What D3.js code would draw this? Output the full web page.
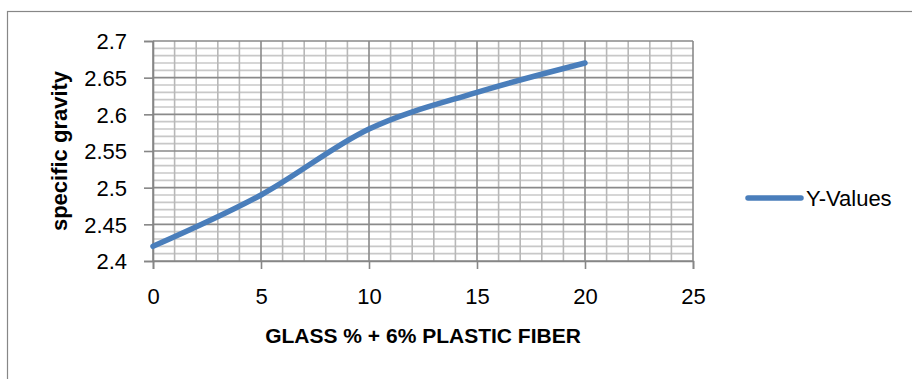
<!DOCTYPE html>
<html>
<head>
<meta charset="utf-8">
<script src="https://cdn.jsdelivr.net/npm/d3@7"></script>
<style>
  html, body { margin: 0; padding: 0; background: #fff; }
  svg { display: block; }
  text { font-family: "Liberation Sans", Arial, sans-serif; fill: #000; }
</style>
</head>
<body>
<svg id="chart" width="912" height="379"></svg>
<script>
// ---- data ----
const xValues = [0, 5, 10, 15, 20];
const yValues = [2.42, 2.49, 2.58, 2.63, 2.67];
const seriesName = "Y-Values";
const xTicks = [0, 5, 10, 15, 20, 25];
const yTicks = [2.4, 2.45, 2.5, 2.55, 2.6, 2.65, 2.7];
const xTitle = "GLASS % + 6% PLASTIC FIBER";
const yTitle = "specific gravity";

const svg = d3.select("#chart");

// outer chart border (extends past the visible frame)
svg.append("rect")
  .attr("x", 7.5).attr("y", 11.5)
  .attr("width", 1200).attr("height", 600)
  .attr("fill", "#fff").attr("stroke", "#878787").attr("stroke-width", 1.2);

const plot = { left: 153, right: 693, top: 41, bottom: 261 };
const x = d3.scaleLinear().domain([0, 25]).range([plot.left, plot.right]);
const y = d3.scaleLinear().domain([2.4, 2.7]).range([plot.bottom, plot.top]);

const g = svg.append("g");

// minor gridlines
const xMinor = d3.range(0, 26, 1).filter(v => v % 5 !== 0);
const yMinor = d3.range(0, 31, 1).filter(v => v % 5 !== 0).map(v => 2.4 + v * 0.01);

g.selectAll(".hminor").data(yMinor).join("line")
  .attr("x1", plot.left).attr("x2", plot.right)
  .attr("y1", d => y(d)).attr("y2", d => y(d))
  .attr("stroke", "#c8c8c8").attr("stroke-width", 1.6);

g.selectAll(".vminor").data(xMinor).join("line")
  .attr("y1", plot.top).attr("y2", plot.bottom)
  .attr("x1", d => x(d)).attr("x2", d => x(d))
  .attr("stroke", "#b8b8b8").attr("stroke-width", 1.6);

// major gridlines
g.selectAll(".hmajor").data(yTicks).join("line")
  .attr("x1", plot.left).attr("x2", plot.right)
  .attr("y1", d => y(d)).attr("y2", d => y(d))
  .attr("stroke", "#8a8a8a").attr("stroke-width", 1.6);

g.selectAll(".vmajor").data(xTicks).join("line")
  .attr("y1", plot.top).attr("y2", plot.bottom)
  .attr("x1", d => x(d)).attr("x2", d => x(d))
  .attr("stroke", "#8a8a8a").attr("stroke-width", 1.6);

// axes
const xAxis = d3.axisBottom(x).tickValues(xTicks).tickSize(8).tickPadding(19)
  .tickFormat(d3.format("d"));
const yAxis = d3.axisLeft(y).tickValues(yTicks).tickSize(9).tickPadding(17)
  .tickFormat(d => String(+d.toFixed(2)));

const gx = svg.append("g").attr("transform", `translate(0,${plot.bottom})`).call(xAxis);
const gy = svg.append("g").attr("transform", `translate(${plot.left},0)`).call(yAxis);

[gx, gy].forEach(a => {
  a.select(".domain").attr("stroke", "#868686").attr("stroke-width", 1.6);
  a.selectAll(".tick line").attr("stroke", "#868686").attr("stroke-width", 1.6);
  a.selectAll(".tick text")
    .style("font-family", '"Liberation Sans", Arial, sans-serif')
    .style("font-size", "22px").attr("fill", "#000");
});
gx.selectAll(".tick text").attr("dy", "0.71em");
gy.selectAll(".tick text").attr("dy", "0.36em");

// series line
const line = d3.line()
  .x((d, i) => x(xValues[i]))
  .y(d => y(d))
  .curve(d3.curveCardinal.tension(0));

svg.append("path")
  .datum(yValues)
  .attr("d", line)
  .attr("fill", "none")
  .attr("stroke", "#4a7ebb")
  .attr("stroke-width", 5.5)
  .attr("stroke-linecap", "round")
  .attr("stroke-linejoin", "round");

// axis titles
svg.append("text")
  .attr("x", (plot.left + plot.right) / 2).attr("y", 343)
  .attr("text-anchor", "middle")
  .style("font-size", "21px").style("font-weight", "bold")
  .text(xTitle);

svg.append("text")
  .attr("transform", `translate(67,${(plot.top + plot.bottom) / 2}) rotate(-90)`)
  .attr("text-anchor", "middle")
  .style("font-size", "22px").style("font-weight", "bold")
  .text(yTitle);

// legend
svg.append("line")
  .attr("x1", 748).attr("x2", 801)
  .attr("y1", 198).attr("y2", 198)
  .attr("stroke", "#4a7ebb").attr("stroke-width", 5.5)
  .attr("stroke-linecap", "round");
svg.append("text")
  .attr("x", 806).attr("y", 206)
  .style("font-size", "22px")
  .text(seriesName);
</script>
</body>
</html>
